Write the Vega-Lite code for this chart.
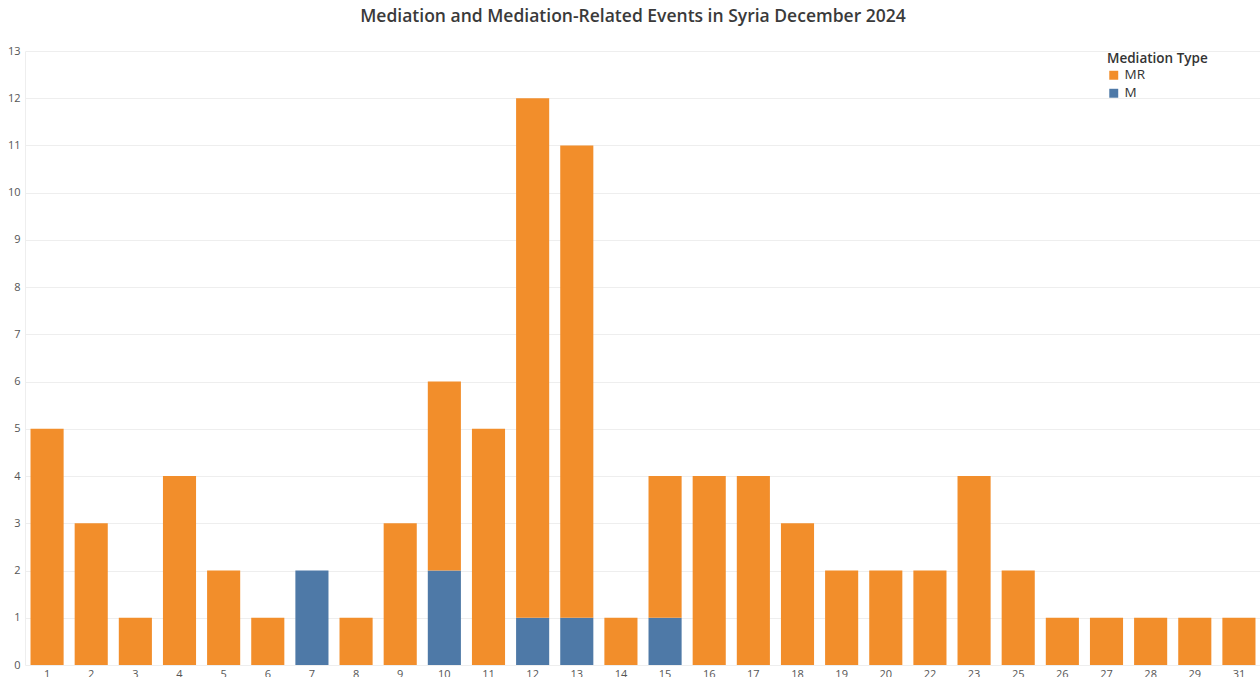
{
  "$schema": "https://vega.github.io/schema/vega-lite/v6.json",
  "autosize": "none",
  "width": 1236,
  "height": 614,
  "padding": {"left": 25, "top": 51, "right": 0, "bottom": 12},
  "background": "white",
  "title": {
    "text": "Mediation and Mediation-Related Events in Syria December 2024",
    "fontSize": 17.5,
    "fontWeight": 600,
    "font": "Open Sans",
    "color": "#3a3a3a",
    "anchor": "middle",
    "dx": -10,
    "offset": 20
  },
  "config": {
    "view": {"stroke": null},
    "font": "Open Sans"
  },
  "data": {
    "values": [
      {"day": 1, "type": "MR", "count": 5},
      {"day": 2, "type": "MR", "count": 3},
      {"day": 3, "type": "MR", "count": 1},
      {"day": 4, "type": "MR", "count": 4},
      {"day": 5, "type": "MR", "count": 2},
      {"day": 6, "type": "MR", "count": 1},
      {"day": 7, "type": "M", "count": 2},
      {"day": 8, "type": "MR", "count": 1},
      {"day": 9, "type": "MR", "count": 3},
      {"day": 10, "type": "M", "count": 2},
      {"day": 10, "type": "MR", "count": 4},
      {"day": 11, "type": "MR", "count": 5},
      {"day": 12, "type": "M", "count": 1},
      {"day": 12, "type": "MR", "count": 11},
      {"day": 13, "type": "M", "count": 1},
      {"day": 13, "type": "MR", "count": 10},
      {"day": 14, "type": "MR", "count": 1},
      {"day": 15, "type": "M", "count": 1},
      {"day": 15, "type": "MR", "count": 3},
      {"day": 16, "type": "MR", "count": 4},
      {"day": 17, "type": "MR", "count": 4},
      {"day": 18, "type": "MR", "count": 3},
      {"day": 19, "type": "MR", "count": 2},
      {"day": 20, "type": "MR", "count": 2},
      {"day": 22, "type": "MR", "count": 2},
      {"day": 23, "type": "MR", "count": 4},
      {"day": 25, "type": "MR", "count": 2},
      {"day": 26, "type": "MR", "count": 1},
      {"day": 27, "type": "MR", "count": 1},
      {"day": 28, "type": "MR", "count": 1},
      {"day": 29, "type": "MR", "count": 1},
      {"day": 31, "type": "MR", "count": 1}
    ]
  },
  "mark": {"type": "bar"},
  "encoding": {
    "x": {
      "field": "day",
      "type": "ordinal",
      "scale": {"paddingInner": 0.25, "paddingOuter": 0.125},
      "axis": {
        "title": null,
        "labelAngle": 0,
        "ticks": false,
        "domain": false,
        "labelFontSize": 11,
        "labelColor": "#555555",
        "labelPadding": 3
      }
    },
    "y": {
      "field": "count",
      "type": "quantitative",
      "stack": "zero",
      "scale": {"domain": [0, 13], "nice": false},
      "axis": {
        "title": null,
        "values": [0,1,2,3,4,5,6,7,8,9,10,11,12,13],
        "ticks": false,
        "domain": true,
        "domainColor": "#eeeeee",
        "gridColor": "#eeeeee",
        "labelFontSize": 11,
        "labelColor": "#555555",
        "labelPadding": 5
      }
    },
    "color": {
      "field": "type",
      "type": "nominal",
      "scale": {"domain": ["MR", "M"], "range": ["#F28E2B", "#4E79A7"]},
      "legend": {
        "title": "Mediation Type",
        "orient": "none",
        "legendX": 1082,
        "legendY": 1,
        "symbolType": "square",
        "symbolSize": 80,
        "titleFontSize": 13.5,
        "titleFontWeight": 600,
        "titleColor": "#333333",
        "labelFontSize": 13.5,
        "labelColor": "#333333",
        "rowPadding": 3,
        "titlePadding": 3
      }
    },
    "order": {"field": "type", "sort": "ascending"}
  }
}
